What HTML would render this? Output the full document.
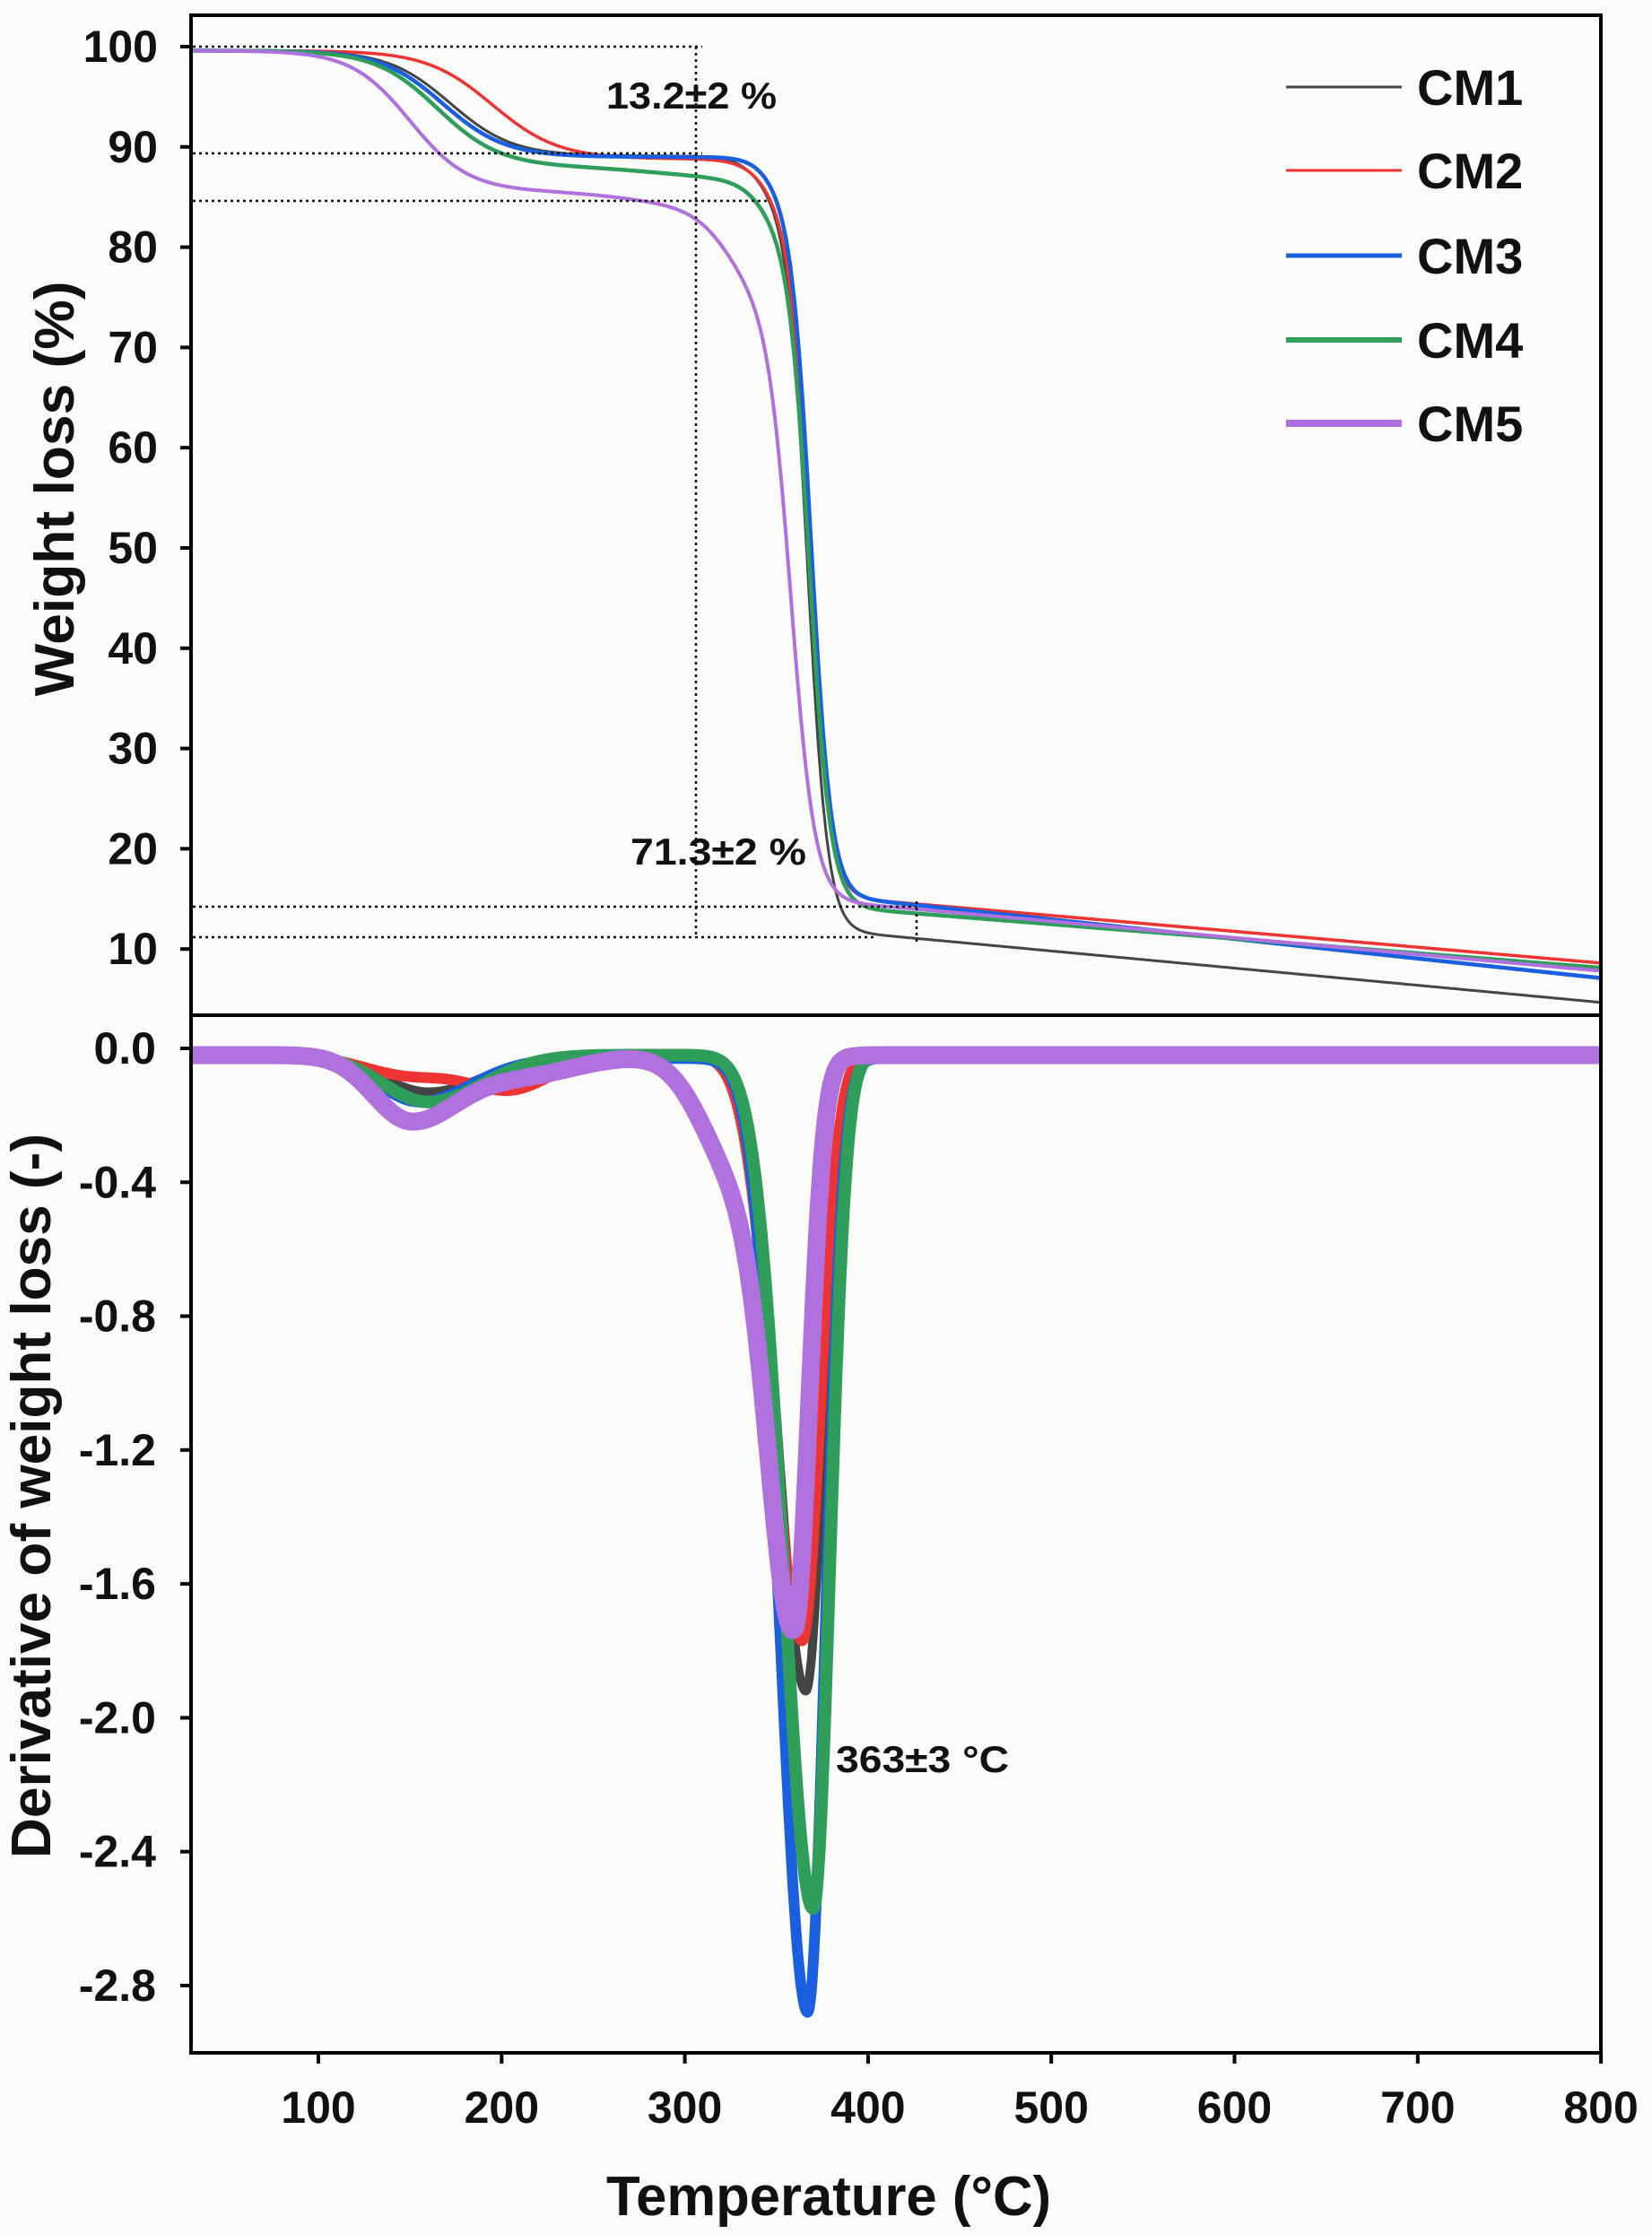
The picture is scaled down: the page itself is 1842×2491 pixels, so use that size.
<!DOCTYPE html>
<html><head><meta charset="utf-8"><style>
html,body{margin:0;padding:0;background:#fbfbfa;}
svg{display:block;}
text{font-family:"Liberation Sans",sans-serif;font-weight:bold;fill:#111;}
</style></head><body>
<svg id="s" width="1842" height="2491" xmlns="http://www.w3.org/2000/svg">
<rect width="1842" height="2491" fill="#fbfbfa"/>
<defs><clipPath id="c1"><rect x="215" y="19" width="1568" height="1111"/></clipPath>
<clipPath id="c2"><rect x="215" y="1134" width="1568" height="1153"/></clipPath></defs>
<g id="g1" clip-path="url(#c1)"></g>
<g id="g2" clip-path="url(#c2)"></g>
<g stroke="#111" stroke-width="2.5" stroke-dasharray="3 4" fill="none">
<line x1="215" y1="52" x2="783" y2="52"/>
<line x1="215" y1="171" x2="783" y2="171"/>
<line x1="215" y1="224" x2="857" y2="224"/>
<line x1="776" y1="52" x2="776" y2="1044"/>
<line x1="215" y1="1011" x2="1022" y2="1011"/>
<line x1="215" y1="1045" x2="975" y2="1045"/>
<line x1="1022" y1="1005" x2="1022" y2="1054"/>
</g>
<g fill="none" stroke="#000" stroke-width="4">
<rect x="213" y="17" width="1572" height="1115"/>
<rect x="213" y="1132" width="1572" height="1157"/>
</g>
<g id="ax"></g>
<text x="676" y="121" font-size="42" textLength="190" lengthAdjust="spacingAndGlyphs">13.2±2 %</text>
<text x="703" y="964" font-size="42" textLength="196" lengthAdjust="spacingAndGlyphs">71.3±2 %</text>
<text x="932" y="1976" font-size="42" textLength="193" lengthAdjust="spacingAndGlyphs">363±3 °C</text>
<g id="leg"></g>
<text transform="translate(82,545) rotate(-90)" text-anchor="middle" font-size="62" textLength="463" lengthAdjust="spacingAndGlyphs">Weight loss (%)</text>
<text transform="translate(56,1668) rotate(-90)" text-anchor="middle" font-size="62" textLength="808" lengthAdjust="spacingAndGlyphs">Derivative of weight loss (-)</text>
<text x="924" y="2470" text-anchor="middle" font-size="62" textLength="496" lengthAdjust="spacingAndGlyphs">Temperature (°C)</text>
</svg>
<script>
const NS="http://www.w3.org/2000/svg";
const X=T=>355+(T-100)*2.043, Y1=w=>52+(100-w)*11.18, Y2=d=>1169-d*373.2;
const sg=x=>1/(1+Math.exp(-x));
const sp=(T,c,s)=>s*Math.log(1+Math.exp((T-c)/s));
const ag=(T,h,c,wl,wr)=>{const w=T<c?wl:wr;return h*Math.exp(-0.5*((T-c)/w)**2);};
function el(p,tag,a,txt){const e=document.createElementNS(NS,tag);for(const k in a)e.setAttribute(k,a[k]);if(txt!==undefined)e.textContent=txt;p.appendChild(e);return e;}
function path(g,f,Y,col,w){let d="";for(let T=30;T<=802;T+=0.5){d+=(d?"L":"M")+X(T).toFixed(1)+" "+Y(f(T)).toFixed(1);}el(g,"path",{d:d,fill:"none",stroke:col,"stroke-width":w,"stroke-linejoin":"round"});}
const tg=[
["#444",3,T=>99.6-10.5*sg((T-172)/17)-5*sg((T-343)/8)-72.5*sg((T-367)/5.5)-0.0171*sp(T,395,10)],
["#ee3333",3.5,T=>99.6-10.8*sg((T-195)/18)-5*sg((T-345)/8)-68.8*sg((T-368)/5.5)-0.0158*sp(T,395,10)],
["#1a5fe0",4.5,T=>99.6-10.6*sg((T-168)/17)-4*sg((T-348)/7)-70*sg((T-369)/5.5)-0.0195*sp(T,395,10)],
["#2e9e5a",4.5,T=>99.6-11.5*sg((T-165)/17)-1.5*sg((T-290)/25)-5*sg((T-343)/8)-67.6*sg((T-368)/5.8)-0.0145*sp(T,395,10)],
["#b070dd",4,T=>99.6-14*sg((T-150)/16)-1.5*sg((T-270)/20)-10*sg((T-325)/11)-59.6*sg((T-358)/6.5)-0.0165*sp(T,395,10)]];
const g1=document.getElementById("g1");tg.forEach(c=>path(g1,c[2],Y1,c[0],c[1]));
const dt=[
["#444",10,T=>-0.02-ag(T,0.11,160,25,30)-ag(T,1.9,366,15,9.5)],
["#ee3333",12,T=>-0.02-ag(T,0.06,150,25,25)-ag(T,0.1,205,22,22)-ag(T,1.75,364,16,10)],
["#1a5fe0",12,T=>-0.03-ag(T,0.13,155,22,28)-ag(T,2.85,367,15,9.5)],
["#2e9e5a",14,T=>-0.02-ag(T,0.14,160,25,30)-ag(T,2.55,370,16,9)],
["#b070dd",20,T=>-0.02-ag(T,0.19,150,20,25)-ag(T,0.06,210,30,30)-ag(T,0.35,330,20,20)-ag(T,1.6,360,14,8)]];
const g2=document.getElementById("g2");dt.forEach(c=>path(g2,c[2],Y2,c[0],c[1]));
const ax=document.getElementById("ax");
for(let v=10;v<=100;v+=10){const y=Y1(v);el(ax,"line",{x1:201,y1:y,x2:213,y2:y,stroke:"#000","stroke-width":4});el(ax,"text",{x:176,y:y+17,"text-anchor":"end","font-size":50},String(v));}
for(let i=0;i<=7;i++){const v=-0.4*i,y=Y2(v);el(ax,"line",{x1:201,y1:y,x2:213,y2:y,stroke:"#000","stroke-width":4});el(ax,"text",{x:174,y:y+17,"text-anchor":"end","font-size":50},i==0?"0.0":v.toFixed(1));}
for(let T=100;T<=800;T+=100){const x=X(T);el(ax,"line",{x1:x,y1:2289,x2:x,y2:2301,stroke:"#000","stroke-width":4});el(ax,"text",{x:x,y:2367,"text-anchor":"middle","font-size":50},String(T));}
const lg=document.getElementById("leg");
const lw=[3,3,5,6,8],ly=[97,190,285,379,472];
for(let i=0;i<5;i++){el(lg,"line",{x1:1434,y1:ly[i],x2:1563,y2:ly[i],stroke:tg[i][0],"stroke-width":lw[i]});el(lg,"text",{x:1580,y:ly[i]+20,"font-size":56},"CM"+(i+1));}
</script>
</body></html>
